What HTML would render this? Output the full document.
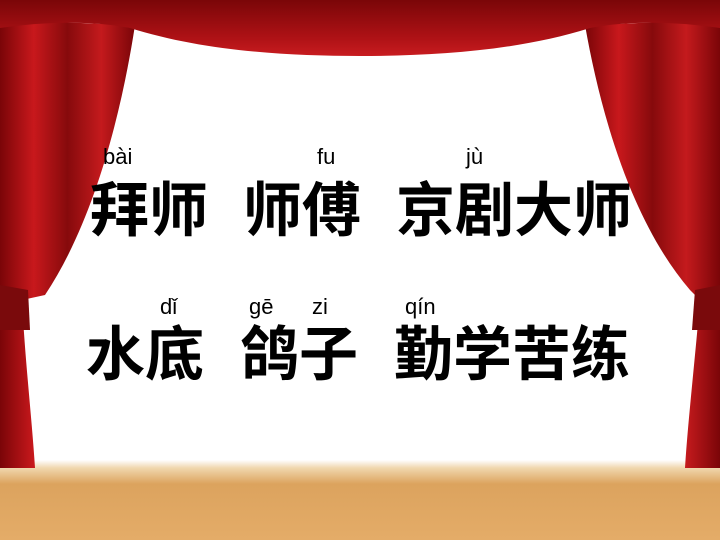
<!DOCTYPE html>
<html><head><meta charset="utf-8"><style>
body{margin:0;width:720px;height:540px;overflow:hidden;background:#fff;position:relative;font-family:"Liberation Sans","Noto Sans CJK SC",sans-serif}
.t{position:absolute;font-size:59px;font-weight:bold;line-height:1;color:#000;white-space:nowrap}
.p{position:absolute;font-size:22px;line-height:1;color:#000}
</style></head><body>
<svg width="720" height="540" style="position:absolute;left:0;top:0">
<defs>
<linearGradient id="fl" x1="0" y1="0" x2="0" y2="1"><stop offset="0" stop-color="#fff"/><stop offset="0.1" stop-color="#f0d7ae"/><stop offset="0.3" stop-color="#dca35e"/><stop offset="1" stop-color="#e4ac68"/></linearGradient>
<linearGradient id="cl" x1="0" y1="0" x2="1" y2="0" spreadMethod="repeat"><stop offset="0" stop-color="#7a0508"/><stop offset="0.25" stop-color="#c8181c"/><stop offset="0.5" stop-color="#860a0c"/><stop offset="0.75" stop-color="#c41a1d"/><stop offset="1" stop-color="#7a0508"/></linearGradient>
<linearGradient id="vl" x1="0" y1="0" x2="0" y2="1"><stop offset="0" stop-color="#7a0608"/><stop offset="0.7" stop-color="#b01216"/><stop offset="1" stop-color="#c81c20"/></linearGradient>
</defs>
<rect x="0" y="460" width="720" height="80" fill="url(#fl)"/>
<path d="M0,20 L135,25 C122,110 95,220 45,295 L22,300 C25,360 32,420 35,468 L0,468 Z" fill="url(#cl)"/>
<path d="M0,285 L28,290 L30,330 L0,330 Z" fill="#7a0a0c"/>
<path d="M720,20 L585,25 C600,110 630,220 690,290 L700,300 C695,360 688,420 685,468 L720,468 Z" fill="url(#cl)"/>
<path d="M720,285 L695,290 L692,330 L720,330 Z" fill="#7a0a0c"/>
<path d="M0,0 L720,0 L720,28 C680,22 630,20 590,28 C520,50 440,56 360,56 C280,56 200,50 130,28 C90,20 40,22 0,28 Z" fill="url(#vl)"/>
</svg>
<div class="p" style="left:103px;top:146px">bài</div>
<div class="p" style="left:317px;top:146px">fu</div>
<div class="p" style="left:466px;top:146px">jù</div>
<div class="t" style="left:90px;top:182px">拜师</div>
<div class="t" style="left:243px;top:182px">师傅</div>
<div class="t" style="left:396px;top:182px">京剧大师</div>
<div class="p" style="left:160px;top:296px">dǐ</div>
<div class="p" style="left:249px;top:296px">gē</div>
<div class="p" style="left:312px;top:296px">zi</div>
<div class="p" style="left:405px;top:296px">qín</div>
<div class="t" style="left:86px;top:326px">水底</div>
<div class="t" style="left:240px;top:326px">鸽子</div>
<div class="t" style="left:394px;top:326px">勤学苦练</div>
</body></html>
